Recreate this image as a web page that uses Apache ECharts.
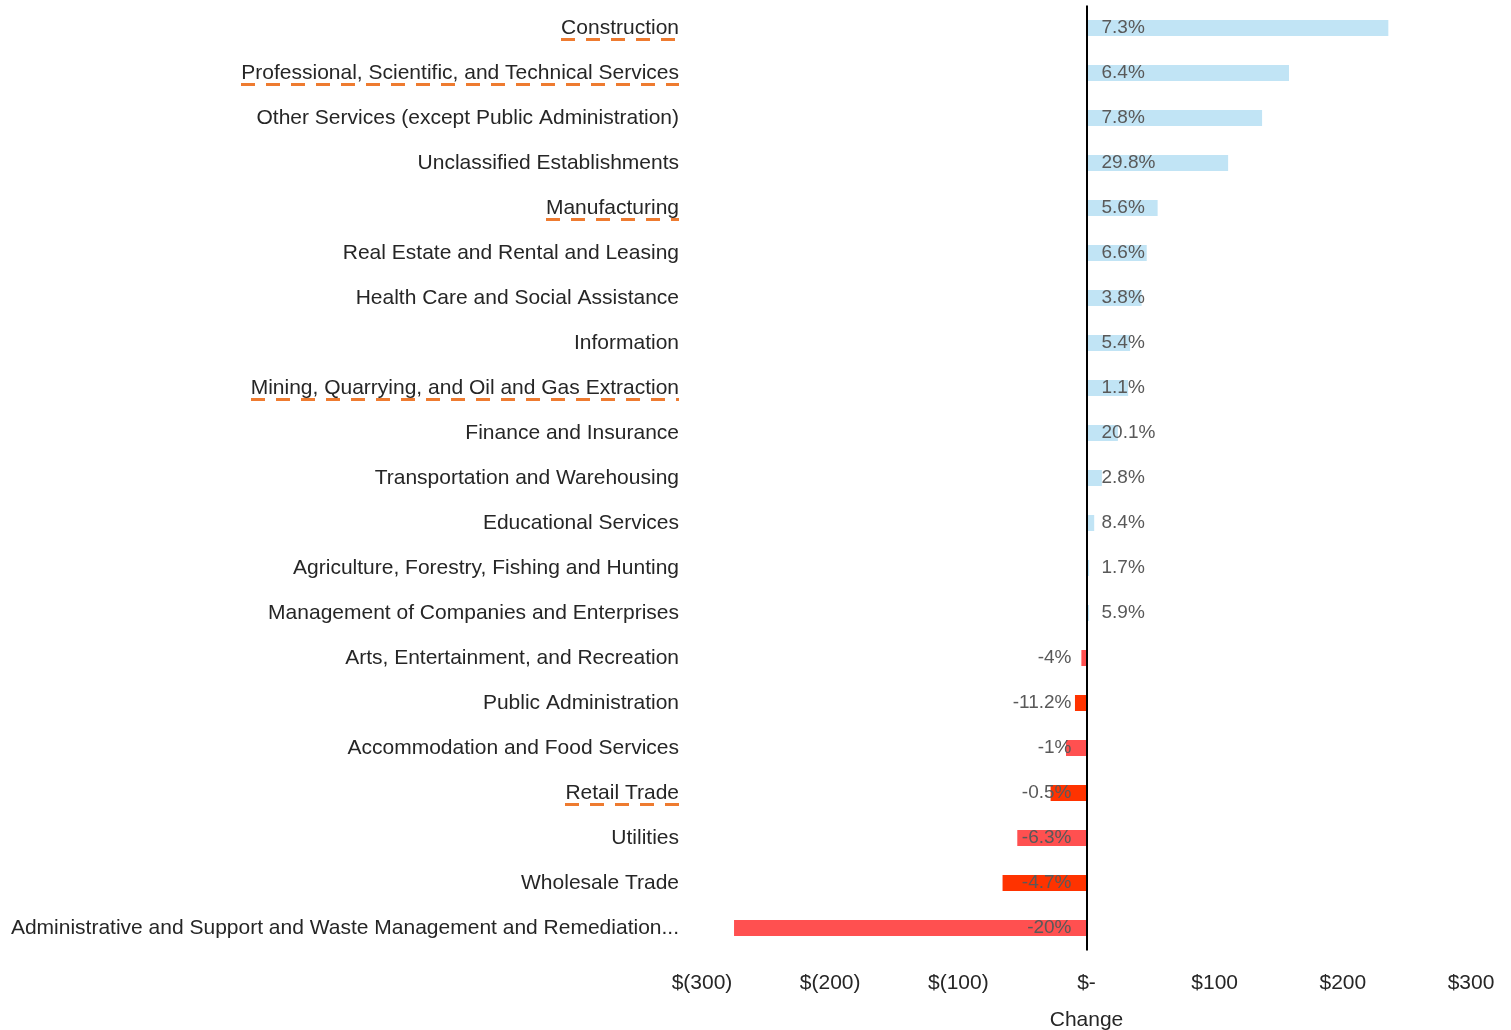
<!DOCTYPE html>
<html>
<head>
<meta charset="utf-8">
<script src="https://cdn.jsdelivr.net/npm/echarts@6/dist/echarts.min.js"></script>
<style>
    html, body { margin: 0; padding: 0; background: #fff; }
    #chart { width: 1511px; height: 1030px; }
</style>
</head>
<body>
<div id="chart"></div>
<script>
    // 行业分类（从上到下）
    const categories = [
        'Construction',
        'Professional, Scientific, and Technical Services',
        'Other Services (except Public Administration)',
        'Unclassified Establishments',
        'Manufacturing',
        'Real Estate and Rental and Leasing',
        'Health Care and Social Assistance',
        'Information',
        'Mining, Quarrying, and Oil and Gas Extraction',
        'Finance and Insurance',
        'Transportation and Warehousing',
        'Educational Services',
        'Agriculture, Forestry, Fishing and Hunting',
        'Management of Companies and Enterprises',
        'Arts, Entertainment, and Recreation',
        'Public Administration',
        'Accommodation and Food Services',
        'Retail Trade',
        'Utilities',
        'Wholesale Trade',
        'Administrative and Support and Waste Management and Remediation...'
    ];
    const changeValues = [235.5, 158, 137, 110.5, 55.5, 47, 43, 34, 32.5, 24.5, 12, 6, 2, 2,
        -4, -9, -16, -28, -54, -65.5, -275];
    const pctLabels = ['7.3%', '6.4%', '7.8%', '29.8%', '5.6%', '6.6%', '3.8%', '5.4%', '1.1%', '20.1%',
        '2.8%', '8.4%', '1.7%', '5.9%', '-4%', '-11.2%', '-1%', '-0.5%', '-6.3%', '-4.7%', '-20%'];
    const xTicks = [-300, -200, -100, 0, 100, 200, 300];
    // 带橙色虚线下划线的标签
    const underlined = ['Construction', 'Professional, Scientific, and Technical Services',
        'Manufacturing', 'Mining, Quarrying, and Oil and Gas Extraction', 'Retail Trade'];

    const posColor = '#C1E4F5';
    const negColors = ['#FF5050', '#FF3300'];
    const labelFont = '"Liberation Sans", Arial, sans-serif';
    const catFontSize = 21;

    // 虚线下划线：按文字宽度画一张小图，当作背景贴上去
    const dashImage = (w) => {
        const cv = document.createElement('canvas');
        cv.width = w;
        cv.height = 3;
        const c = cv.getContext('2d');
        c.fillStyle = '#EE7B30';
        for (let x = 0; x < w; x += 25) {
            c.fillRect(x, 0, Math.min(14, w - x), 3);
        }
        return cv;
    };

    const ctx = document.createElement('canvas').getContext('2d');
    ctx.font = catFontSize + 'px ' + labelFont;
    const rich = {
        s: { lineHeight: 2, fontSize: 2 },
        t: { fontSize: catFontSize, fontFamily: labelFont, color: '#262626', lineHeight: 21 }
    };
    underlined.forEach((name, i) => {
        const w = Math.round(ctx.measureText(name).width);
        rich['u' + i] = {
            width: w,
            height: 3,
            lineHeight: 2,
            fontSize: 2,
            backgroundColor: { image: dashImage(w) }
        };
    });

    const fmtMoney = v => v < 0 ? '$(' + Math.abs(v) + ')' : (v === 0 ? '$-' : '$' + v);

    let negIdx = 0;
    const seriesData = changeValues.map((v, i) => {
        const neg = v < 0;
        const color = neg ? negColors[(negIdx++) % 2] : posColor;
        return {
            value: v,
            itemStyle: { color },
            label: {
                position: neg ? 'insideRight' : 'insideLeft',
                formatter: pctLabels[i]
            }
        };
    });

    const option = {
        animation: false,
        grid: {
            left: 702, right: 40, top: 5.5, bottom: 79.5,
            containLabel: false,
            outerBoundsMode: 'none'
        },
        xAxis: {
            type: 'value',
            min: xTicks[0],
            max: xTicks[xTicks.length - 1],
            interval: 100,
            name: 'Change',
            nameLocation: 'middle',
            nameGap: 59,
            nameTextStyle: { fontSize: 21, color: '#262626', fontFamily: labelFont },
            axisLine: { show: false },
            axisTick: { show: false },
            splitLine: { show: false },
            axisLabel: {
                fontSize: 21,
                color: '#262626',
                fontFamily: labelFont,
                margin: 22,
                formatter: fmtMoney
            }
        },
        yAxis: {
            type: 'category',
            inverse: true,
            data: categories,
            axisLine: { show: false },
            axisTick: { show: false },
            axisLabel: {
                fontSize: catFontSize,
                color: '#262626',
                fontFamily: labelFont,
                margin: 23,
                rich,
                formatter(val) {
                    const k = underlined.indexOf(val);
                    return k > -1 ? `{s| }\n{t|${val}}\n{u${k}| }` : val;
                }
            }
        },
        series: [{
            type: 'bar',
            data: seriesData,
            barWidth: 16,
            label: {
                show: true,
                distance: 15,
                fontSize: 19,
                color: '#595959',
                fontFamily: labelFont
            },
            markLine: {
                silent: true,
                symbol: 'none',
                label: { show: false },
                lineStyle: { color: '#000', width: 2, type: 'solid' },
                data: [{ xAxis: 0 }]
            }
        }]
    };

    const chart = echarts.init(document.getElementById('chart'));
    chart.setOption(option);
</script>
</body>
</html>
